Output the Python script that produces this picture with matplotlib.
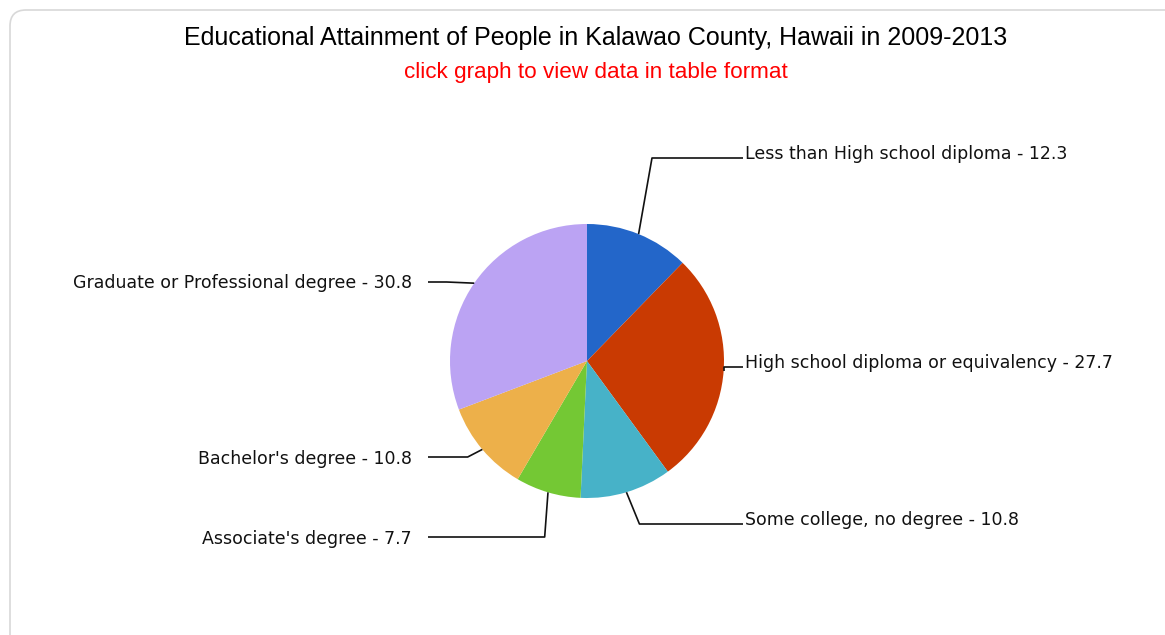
import matplotlib.pyplot as plt
import numpy as np
from matplotlib.patches import FancyBboxPatch

categories = [
    "Less than High school diploma",
    "High school diploma or equivalency",
    "Some college, no degree",
    "Associate's degree",
    "Bachelor's degree",
    "Graduate or Professional degree",
]
values = [12.3, 27.7, 10.8, 7.7, 10.8, 30.8]
colors = ["#2366c9", "#c93a02", "#47b2c8", "#74c834", "#edb04a", "#bba3f3"]

# layout (pixels, y down)
W, H = 1165, 635
cx, cy, r = 587, 361, 137
label_y = [158, 367, 524, 537, 457, 282]
elbow_r = [1.26, 1.0, 1.33, 1.085, 1.14, 1.245]

fig = plt.figure(figsize=(W / 100, H / 100), dpi=100)
ax = fig.add_axes([0, 0, 1, 1])

# y axis runs downward, so counterclock=True shows as clockwise from the top
wedges, _ = ax.pie(values, colors=colors, center=(cx, cy), radius=r,
                   startangle=270, counterclock=True, frame=True,
                   wedgeprops=dict(linewidth=0))
ax.set_xlim(0, W)
ax.set_ylim(H, 0)
ax.set_aspect("equal")
ax.axis("off")

border = FancyBboxPatch((10, 10), W + 40, H + 40,
                        boxstyle="round,pad=0,rounding_size=16",
                        facecolor="white", edgecolor="#d8d8d8", linewidth=1.2, zorder=0)
ax.add_patch(border)

ax.text(596, 45, "Educational Attainment of People in Kalawao County, Hawaii in 2009-2013",
        ha="center", va="baseline", fontsize=18, family="Liberation Sans", color="black")
ax.text(596, 78, "click graph to view data in table format",
        ha="center", va="baseline", fontsize=16.2, family="Liberation Sans", color="#ff0000")

total = sum(values)
start = 0.0
for i, (cat, val) in enumerate(zip(categories, values)):
    frac = val / total * 360
    mid = np.radians(start + frac / 2)
    start += frac
    ex, ey = cx + r * np.sin(mid), cy - r * np.cos(mid)
    bx = cx + r * elbow_r[i] * np.sin(mid)
    by = label_y[i]
    right = np.sin(mid) > 0
    if right:
        xs = [ex, bx, 743]
        tx, ha = 745, "left"
        ty = by + 1
    else:
        xs = [ex, bx, 428]
        tx, ha = 412, "right"
        ty = by + 6.5
    ax.plot(xs, [ey, by, by], color="#111111", linewidth=1.2, solid_capstyle="butt")
    ax.text(tx, ty, f"{cat} - {val}", ha=ha, va="baseline", fontsize=12.5,
            family="DejaVu Sans", color="#111111")

fig.savefig("out.png", dpi=100)
